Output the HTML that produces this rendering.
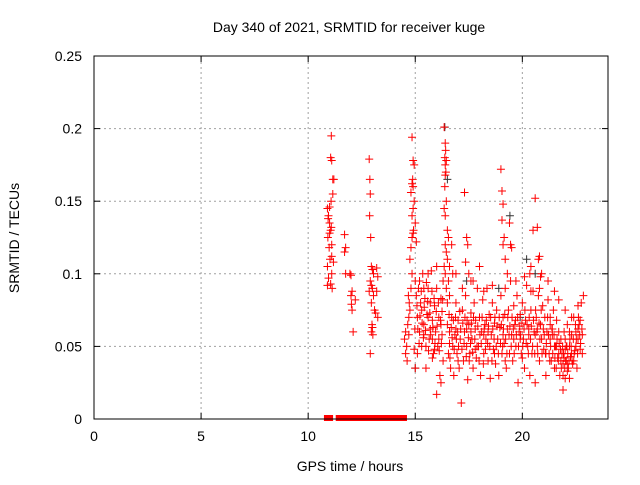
<!DOCTYPE html>
<html><head><meta charset="utf-8"><style>
body{margin:0;background:#fff;font-family:"Liberation Sans",sans-serif}
svg text{font-family:"Liberation Sans",sans-serif;font-size:14px;fill:#000}
</style></head><body>
<svg id="chart" width="640" height="480" xmlns="http://www.w3.org/2000/svg">
<rect width="640" height="480" fill="#fff"/>
<text x="349" y="32" text-anchor="middle">Day 340 of 2021, SRMTID for receiver kuge</text>
<text x="350" y="471" text-anchor="middle">GPS time / hours</text>
<text x="19" y="238" text-anchor="middle" transform="rotate(-90 19 238)">SRMTID / TECUs</text>
<g id="grid"></g>
<g id="marks"></g>
<rect x="94" y="56" width="514" height="363" fill="none" stroke="#000" stroke-width="1"/>
<g id="ticks"></g>
</svg>
<script>
const xTicks=[0,5,10,15,20];
const yTicks=[0,0.05,0.1,0.15,0.2,0.25];
const yTickLabels=["0","0.05","0.1","0.15","0.2","0.25"];
const zeroHours=[10.9,11.0,11.45,11.55,11.65,11.75,11.85,11.95,12.05,12.15,12.25,12.35,12.55,12.62,12.75,12.85,12.95,13.2,13.3,13.55,13.7,13.8,13.9,14.0,14.1,14.2,14.3,14.4,14.45];
const obs=[
[10.9,.145],[10.95,.14],[11.0,.146],[11.05,.13],[10.92,.125],[11.1,.12],[10.98,.118],[11.02,.11],[10.9,.105],[11.1,.1],[10.95,.097],[11.05,.093],[10.9,.092],[11.12,.09],[11.0,.135],[11.08,.195],[11.05,.18],[11.1,.178],[11.15,.165],[11.2,.165],[11.07,.15],[11.15,.155],[11.1,.112],[11.18,.108],[11.0,.128],[11.08,.132],[10.93,.138],
[11.7,.127],[11.75,.118],[11.7,.115],[11.75,.1],[11.95,.1],[12.0,.099],[12.05,.088],[12.0,.085],[12.02,.079],[12.05,.075],[12.1,.06],[12.2,.082],
[12.85,.179],[12.88,.165],[12.9,.155],[12.87,.14],[12.92,.125],[12.95,.105],[13.0,.103],[13.05,.1],[12.9,.095],[12.95,.092],[13.0,.09],[12.85,.088],[13.05,.085],[12.95,.08],[13.1,.075],[13.15,.073],[12.98,.065],[13.0,.063],[12.95,.06],[13.02,.058],[12.9,.045],[13.2,.104],[13.25,.098],[13.2,.088],[13.25,.07],
[14.55,.06],[14.5,.055],[14.6,.05],[14.55,.045],[14.62,.04],[14.7,.058],[14.65,.065],[14.7,.07],[14.75,.075],[14.72,.08],[14.68,.085],[14.8,.09],[14.85,.1],[14.75,.11],[14.8,.118],[14.85,.125],[14.9,.128],[14.92,.13],[14.85,.14],[14.9,.145],[14.95,.15],[14.8,.156],[14.85,.162],[14.9,.16],[14.88,.165],[14.95,.175],[14.9,.178],[14.85,.194],[15.0,.135],[15.05,.122],[15.0,.095],[14.95,.048],[15.0,.035],[14.98,.062],
[16.35,.201],[16.4,.19],[16.42,.185],[16.38,.18],[16.45,.178],[16.4,.175],[16.43,.17],[16.4,.168],[16.38,.16],[16.45,.15],[16.35,.145],[16.4,.14],[16.5,.13],[16.55,.125],[16.4,.12],[16.45,.115],[16.5,.11],[16.35,.105],[16.4,.1],[16.55,.095],[16.45,.09],[16.6,.085],[16.5,.08],[16.7,.12],[16.75,.1],[16.6,.105],
[17.3,.156],[17.4,.125],[17.45,.12],[17.35,.108],[17.5,.1],[17.6,.095],[18.0,.105],[19.0,.172],[19.05,.157],[19.1,.148],[19.05,.137],[19.15,.125],[19.1,.12],[19.2,.11],[19.4,.135],[19.45,.12],[19.5,.118],[20.35,.1],[20.4,.105],[20.5,.13],[20.6,.152],[20.7,.132],[20.75,.11],[20.8,.112],[20.9,.1],[20.85,.098],
[15.05,.085],[15.1,.07],[15.15,.09],[15.2,.06],[15.25,.08],[15.3,.075],[15.35,.1],[15.4,.065],[15.45,.083],[15.5,.05],[15.55,.072],[15.6,.09],[15.65,.055],[15.7,.08],[15.75,.102],[15.8,.068],[15.85,.045],[15.9,.078],[15.95,.06],[16.0,.09],[16.05,.05],[16.1,.07],[16.15,.03],[16.2,.083],[16.25,.058],[16.3,.04],[15.1,.045],[15.3,.05],[15.5,.035],[15.7,.062],[15.9,.048],[16.1,.055],[16.2,.025],[16.0,.017],[15.4,.09],[15.6,.07],[15.8,.055],[16.25,.074],
[16.5,.065],[16.55,.045],[16.6,.06],[16.65,.035],[16.7,.07],[16.75,.05],[16.8,.03],[16.85,.058],[16.9,.08],[16.95,.045],[17.0,.068],[17.05,.035],[17.1,.055],[17.15,.011],[17.2,.075],[17.25,.04],[17.3,.06],[17.35,.085],[17.4,.05],[17.45,.027],[17.5,.065],[17.55,.045],[17.6,.073],[17.65,.055],[17.7,.035],[17.75,.08],[17.8,.062],[17.85,.042],[17.9,.09],[17.95,.05],[18.0,.07],[18.05,.03],[18.1,.06],[18.15,.082],[18.2,.045],[18.25,.065],[18.3,.055],[18.35,.09],[18.4,.04],[18.45,.072],[18.5,.028],[18.55,.058],[18.6,.08],[18.65,.048],[18.7,.066],[18.75,.038],[18.8,.075],[18.85,.055],[18.9,.03],[18.95,.063],
[19.0,.085],[19.05,.045],[19.1,.07],[19.15,.052],[19.2,.09],[19.25,.035],[19.3,.062],[19.35,.075],[19.4,.045],[19.45,.095],[19.5,.058],[19.55,.04],[19.6,.078],[19.65,.065],[19.7,.05],[19.75,.085],[19.8,.025],[19.85,.06],[19.9,.072],[19.95,.045],[20.0,.08],[20.05,.055],[20.1,.035],[20.15,.068],[20.2,.092],[20.25,.05],[20.3,.062],[20.35,.03],[20.4,.075],[20.45,.045],[20.5,.088],[20.55,.06],[20.6,.025],[20.65,.07],[20.7,.05],[20.75,.085],[20.8,.04],[20.85,.065],[20.9,.055],[20.95,.078],
[21.0,.048],[21.05,.07],[21.1,.03],[21.15,.06],[21.2,.082],[21.25,.045],[21.3,.065],[21.35,.04],[21.4,.058],[21.45,.075],[21.5,.035],[21.55,.05],[21.6,.068],[21.65,.042],[21.7,.06],[21.75,.03],[21.8,.055],[21.85,.045],[21.9,.038],[21.95,.06],[22.0,.048],[22.05,.04],[22.1,.065],[22.15,.035],[22.2,.05],[22.25,.043],[22.3,.058],[22.35,.038],[22.4,.07],[22.45,.047],[22.5,.06],[22.55,.035],[22.6,.055],[22.65,.065],[22.7,.048],[22.75,.08],[22.8,.058],[22.85,.085],[22.1,.033],[22.2,.028],[21.9,.02],[21.7,.045],[21.6,.05],[22.0,.055],[22.3,.045],[22.4,.04],[22.5,.05],[22.6,.062],[22.7,.068],[21.8,.04],[21.5,.05],[21.3,.055],
[15.2,.095],[15.6,.1],[16.0,.105],[16.3,.095],[16.9,.1],[17.2,.09],[17.7,.095],[18.2,.088],[18.6,.092],[19.3,.1],[19.7,.095],[20.1,.098],[20.4,.088],[20.8,.09],[21.2,.095],[21.5,.088],[21.7,.082],[22.0,.075],[22.3,.07],[22.6,.078],[15.4,.058],[15.8,.042],[16.6,.052],[17.0,.04],[17.4,.062],[17.8,.048],[18.2,.058],[18.7,.045],[19.2,.04],[19.6,.055],[20.0,.042],[20.3,.058],[20.7,.062],[21.1,.045],[21.4,.062],[16.2,.065],[16.9,.062],[17.6,.06],[18.4,.06],[19.1,.058],[19.9,.055],[20.6,.058],[21.3,.07],[22.2,.06],[22.8,.045],
[15.08,.078],[15.12,.062],[15.18,.052],[15.22,.071],[15.28,.088],[15.32,.066],[15.38,.056],[15.42,.077],[15.48,.061],[15.52,.094],[15.58,.081],[15.62,.047],[15.68,.073],[15.72,.058],[15.78,.088],[15.82,.063],[15.88,.083],[15.92,.052],[15.98,.074],[16.02,.064],[16.08,.08],[16.12,.047],[16.18,.068],[16.22,.052],[16.28,.082],
[16.58,.072],[16.62,.042],[16.68,.063],[16.72,.056],[16.78,.068],[16.82,.048],[16.88,.07],[16.92,.055],[16.98,.06],[17.02,.05],[17.08,.074],[17.12,.062],[17.18,.048],[17.22,.066],[17.28,.052],[17.32,.07],[17.38,.043],[17.42,.068],[17.48,.056],[17.52,.04],[17.58,.052],[17.62,.066],[17.68,.046],[17.72,.07],[17.78,.055],[17.82,.068],[17.88,.05],[17.92,.064],[17.98,.04],[18.02,.058],[18.08,.052],[18.12,.07],[18.18,.038],[18.22,.062],[18.28,.048],[18.32,.068],[18.38,.052],[18.42,.064],[18.48,.05],[18.52,.07],[18.58,.04],[18.62,.062],[18.68,.055],[18.72,.07],[18.78,.05],[18.82,.064],[18.88,.045],[18.92,.07],[18.98,.052],
[19.02,.065],[19.08,.05],[19.12,.062],[19.18,.072],[19.22,.055],[19.28,.045],[19.32,.07],[19.38,.058],[19.42,.064],[19.48,.05],[19.52,.07],[19.58,.062],[19.62,.045],[19.68,.068],[19.72,.058],[19.78,.07],[19.82,.05],[19.88,.064],[19.92,.058],[19.98,.066],[20.02,.05],[20.08,.062],[20.12,.075],[20.18,.052],[20.22,.065],[20.28,.045],[20.32,.07],[20.38,.055],[20.42,.064],[20.48,.05],[20.52,.068],[20.58,.045],[20.62,.075],[20.68,.06],[20.72,.045],[20.78,.066],[20.82,.055],[20.88,.075],[20.92,.045],[20.98,.062],
[21.02,.058],[21.08,.045],[21.12,.052],[21.18,.07],[21.22,.058],[21.28,.04],[21.32,.05],[21.38,.062],[21.42,.045],[21.48,.058],[21.52,.042],[21.58,.035],[21.62,.055],[21.68,.04],[21.72,.052],[21.78,.048],[21.82,.035],[21.88,.05],[21.92,.045],[21.98,.035],[22.02,.04],[22.08,.05],[22.12,.045],[22.18,.04],[22.22,.055],[22.28,.05],[22.32,.04],[22.38,.055],[22.42,.045],[22.48,.065],[22.52,.055],[22.58,.045],[22.62,.07],[22.68,.058],[22.72,.052],[22.78,.062],[21.9,.03],[22.0,.028],[22.1,.038],[21.95,.042],[22.05,.05]
];
const dark=[[16.38,.201],[19.42,.14],[17.3,.156],[15.0,.035],[20.6,.1],[16.5,.165],[18.9,.09],[20.2,.11],[17.4,.095],[19.9,.07]];
const NS="http://www.w3.org/2000/svg";
const X0=94,X1=608,Y0=419,Y1=56;
const xs=h=>X0+h/24*(X1-X0);
const ys=v=>Y0-v/0.25*(Y0-Y1);
const grid=document.getElementById('grid'),ticks=document.getElementById('ticks'),marks=document.getElementById('marks');
function ln(p,a,b,c,d,col,dash,name){const l=document.createElementNS(NS,'line');l.setAttribute('x1',a);l.setAttribute('y1',b);l.setAttribute('x2',c);l.setAttribute('y2',d);l.setAttribute('stroke',col);if(dash)l.setAttribute('stroke-dasharray',dash);


p.appendChild(l);}
function tx(p,x,y,s,anchor,name){const t=document.createElementNS(NS,'text');t.setAttribute('x',x);t.setAttribute('y',y);t.setAttribute('text-anchor',anchor);t.textContent=s;


p.appendChild(t);}
xTicks.forEach(h=>{const x=xs(h);if(h>0)ln(grid,x,Y0,x,Y1,'#a0a0a0','2,3','x-gridline');ln(ticks,x,Y0,x,Y0-6,'#000',null,'x-tick');ln(ticks,x,Y1,x,Y1+6,'#000',null,'x-tick');tx(ticks,x,Y0+22,String(h),'middle','x-tick-label');});
yTicks.forEach((v,i)=>{const y=ys(v);if(v>0&&v<0.25)ln(grid,X0,y,X1,y,'#a0a0a0','2,3','y-gridline');ln(ticks,X0,y,X0+6,y,'#000',null,'y-tick');ln(ticks,X1,y,X1-6,y,'#000',null,'y-tick');tx(ticks,X0-12,y+5,yTickLabels[i],'end','y-tick-label');});
function cross(h,v,col){const x=xs(h),y=ys(v);const p=document.createElementNS(NS,'path');p.setAttribute('d',`M${x-4},${y}H${x+4}M${x},${y-4}V${y+4}`);p.setAttribute('stroke',col);p.setAttribute('stroke-width','1');


marks.appendChild(p);}
dark.forEach(d=>cross(d[0],d[1],'#333'));
obs.forEach(d=>cross(d[0],d[1],'#f00'));
zeroHours.forEach(h=>{const r=document.createElementNS(NS,'rect');r.setAttribute('x',xs(h)-3.5);r.setAttribute('y',ys(0)-4);r.setAttribute('width',7);r.setAttribute('height',6);r.setAttribute('fill','#f00');


marks.appendChild(r);});
</script>
</body></html>
